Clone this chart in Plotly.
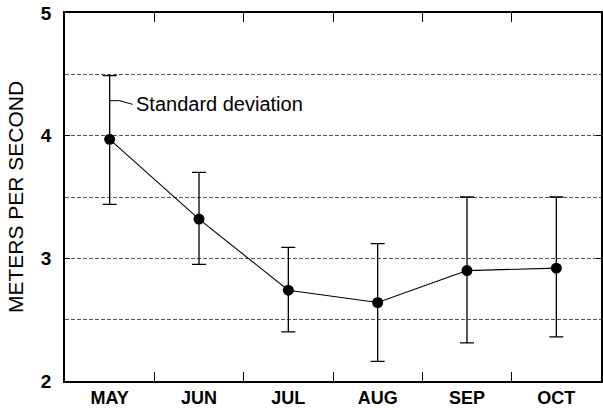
import plotly.graph_objects as go

months = ["MAY", "JUN", "JUL", "AUG", "SEP", "OCT"]
mean_speed = [3.97, 3.32, 2.74, 2.64, 2.90, 2.92]
sd_upper = [4.49, 3.70, 3.09, 3.12, 3.50, 3.50]
sd_lower = [3.44, 2.95, 2.40, 2.16, 2.31, 2.36]
y_ticks = [2, 3, 4, 5]

err_plus = [u - m for u, m in zip(sd_upper, mean_speed)]
err_minus = [m - l for m, l in zip(mean_speed, sd_lower)]

font_family = "Liberation Sans, Arial, sans-serif"

fig = go.Figure()
fig.add_trace(go.Scatter(
    x=months, y=mean_speed,
    mode="lines+markers",
    line=dict(color="black", width=1.1),
    marker=dict(color="black", size=11),
    error_y=dict(type="data", symmetric=False, array=err_plus,
                 arrayminus=err_minus, color="black", thickness=1.3, width=7),
    showlegend=False,
))

# leader line from the May error bar to its label
fig.add_shape(type="path", xref="x", yref="y", xsizemode="pixel", xanchor=0,
              path="M0,4.285 L10,4.285 L23,4.255",
              line=dict(color="black", width=1))
fig.add_annotation(x=0, y=4.26, xref="x", yref="y", text="Standard deviation",
                   showarrow=False, xanchor="left", yanchor="middle", xshift=24,
                   font=dict(family=font_family, size=20, color="black"))

fig.update_xaxes(
    type="category", range=[-0.5, 5.5], automargin=False,
    showline=True, linecolor="black", linewidth=1.5, mirror="ticks",
    ticks="inside", tickson="boundaries", ticklen=9, tickcolor="black", tickwidth=1.2,
    showgrid=False, zeroline=False, ticklabelstandoff=0,
    tickfont=dict(family=font_family, size=18, color="black", weight="bold"),
)
fig.update_yaxes(
    range=[2, 5], tickvals=y_ticks, automargin=False,
    showline=True, linecolor="black", linewidth=1.5, mirror="ticks",
    ticks="inside", ticklen=5, tickcolor="black", tickwidth=1.2,
    showgrid=True, gridcolor="#555555", gridwidth=1, griddash="4px,2px",
    minor=dict(dtick=0.5, tick0=2, showgrid=True, gridcolor="#555555",
               gridwidth=1, griddash="4px,2px", ticks=""),
    zeroline=False, ticklabelstandoff=8,
    tickfont=dict(family=font_family, size=19, color="black", weight="bold"),
    title=dict(text="METERS PER SECOND", standoff=12,
               font=dict(family=font_family, size=21, color="black")),
)
fig.update_layout(
    width=603, height=408,
    margin=dict(l=65, r=2, t=13, b=27),
    paper_bgcolor="white", plot_bgcolor="white",
)
fig.write_html("out.html")
